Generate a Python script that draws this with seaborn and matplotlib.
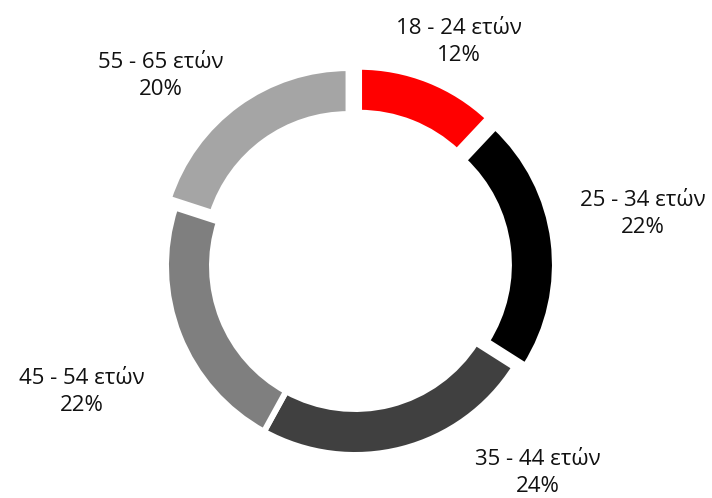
import numpy as np
import matplotlib
matplotlib.use("Agg")
import matplotlib.pyplot as plt
import seaborn as sns

# data
age_groups = ["18 - 24 ετών", "25 - 34 ετών", "35 - 44 ετών", "45 - 54 ετών", "55 - 65 ετών"]
shares = [12, 22, 24, 22, 20]
colors = ["#ff0000", "#000000", "#404040", "#7f7f7f", "#a5a5a5"]

# layout (pixel units, y pointing up)
W, H = 712, 498
center = (355, H - 266)
radius = 189
ring_width = 46
explode = [11, 11, 0, 0, 11]
label_pos = [(459, H - 42), (643, H - 214), (538, H - 473), (82, H - 392), (161, H - 76)]

sns.set_theme(style="white")
plt.rcParams["font.family"] = ["Open Sans", "DejaVu Sans"]

fig = plt.figure(figsize=(W / 100, H / 100), dpi=100)
ax = fig.add_axes([0, 0, 1, 1])

ax.pie(shares, colors=colors, startangle=90, counterclock=False,
       center=center, radius=radius, explode=explode,
       wedgeprops=dict(width=ring_width, edgecolor="white", linewidth=4.3))

ax.set_xlim(0, W)
ax.set_ylim(0, H)
ax.set_aspect("equal")
ax.axis("off")

for name, val, (x, y) in zip(age_groups, shares, label_pos):
    ax.text(x, y, f"{name}\n{val}%", ha="center", va="center",
            fontsize=16, color="#111111", linespacing=1.4)

fig.savefig("out.png", dpi=100, facecolor="white")
